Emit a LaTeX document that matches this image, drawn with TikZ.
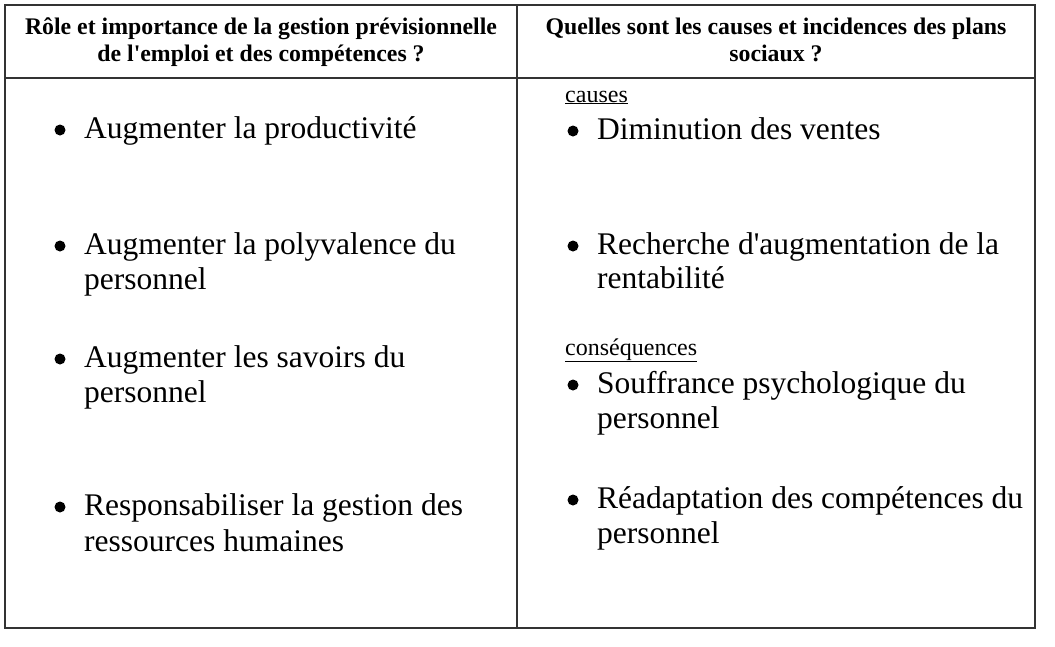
\documentclass[tikz,border=0pt]{standalone}
\usepackage{fontspec}
\setmainfont{Liberation Serif}
\begin{document}
\begin{tikzpicture}[x=1pt,y=-1pt,
  frame/.style={draw=black!80,line width=1.1pt},
  head/.style={font=\fontsize{23.8}{28}\selectfont\bfseries,inner sep=0pt,anchor=base},
  body/.style={font=\fontsize{31.5}{36}\selectfont,inner sep=0pt,anchor=base west},
  bul/.style={circle,fill=black,inner sep=0pt,minimum size=11pt},
  sub/.style={font=\fontsize{24}{28}\selectfont,inner sep=0pt,anchor=base west}]
\useasboundingbox (0,0) rectangle (1055,646);
\fill[white] (0,0) rectangle (1055,646);
% frame
\coordinate (tl) at (5,5);
\coordinate (br) at (1035,628);
\coordinate (hl) at (5,78);
\coordinate (hr) at (1035,78);
\coordinate (dt) at (517,5);
\coordinate (db) at (517,628);
\draw[frame] (tl) rectangle (br);
\draw[frame] (hl) -- (hr);
\draw[frame] (dt) -- (db);
% headers
\node[head] (h1a) at (261,34) {Rôle et importance de la gestion prévisionnelle};
\node[head] (h1b) at (261,61) {de l\textquotesingle emploi et des compétences ?};
\node[head] (h2a) at (776,34) {Quelles sont les causes et incidences des plans};
\node[head] (h2b) at (776,61) {sociaux ?};
% left column
\node[bul] (b1) at (60,130) {};
\node[body] (l1) at (84,138) {Augmenter la productivité};
\node[bul] (b2) at (60,246) {};
\node[body] (l2a) at (84,254) {Augmenter la polyvalence du};
\node[body] (l2b) at (84,289) {personnel};
\node[bul] (b3) at (60,359) {};
\node[body] (l3a) at (84,367) {Augmenter les savoirs du};
\node[body] (l3b) at (84,402) {personnel};
\node[bul] (b4) at (60,507) {};
\node[body] (l4a) at (84,515) {Responsabiliser la gestion des};
\node[body] (l4b) at (84,551) {ressources humaines};
% right column
\node[sub] (c0) at (565,102) {\underline{causes}};
\node[bul] (rb1) at (573,131) {};
\node[body] (r1) at (597,139) {Diminution des ventes};
\node[bul] (rb2) at (573,246) {};
\node[body] (r2a) at (597,254) {Recherche d\textquotesingle augmentation de la};
\node[body] (r2b) at (597,288) {rentabilité};
\node[sub] (c1) at (565,355) {\underline{conséquences}};
\node[bul] (rb3) at (573,385) {};
\node[body] (r3a) at (597,393) {Souffrance psychologique du};
\node[body] (r3b) at (597,428) {personnel};
\node[bul] (rb4) at (573,500) {};
\node[body] (r4a) at (597,508) {Réadaptation des compétences du};
\node[body] (r4b) at (597,543) {personnel};
\end{tikzpicture}
\end{document}
